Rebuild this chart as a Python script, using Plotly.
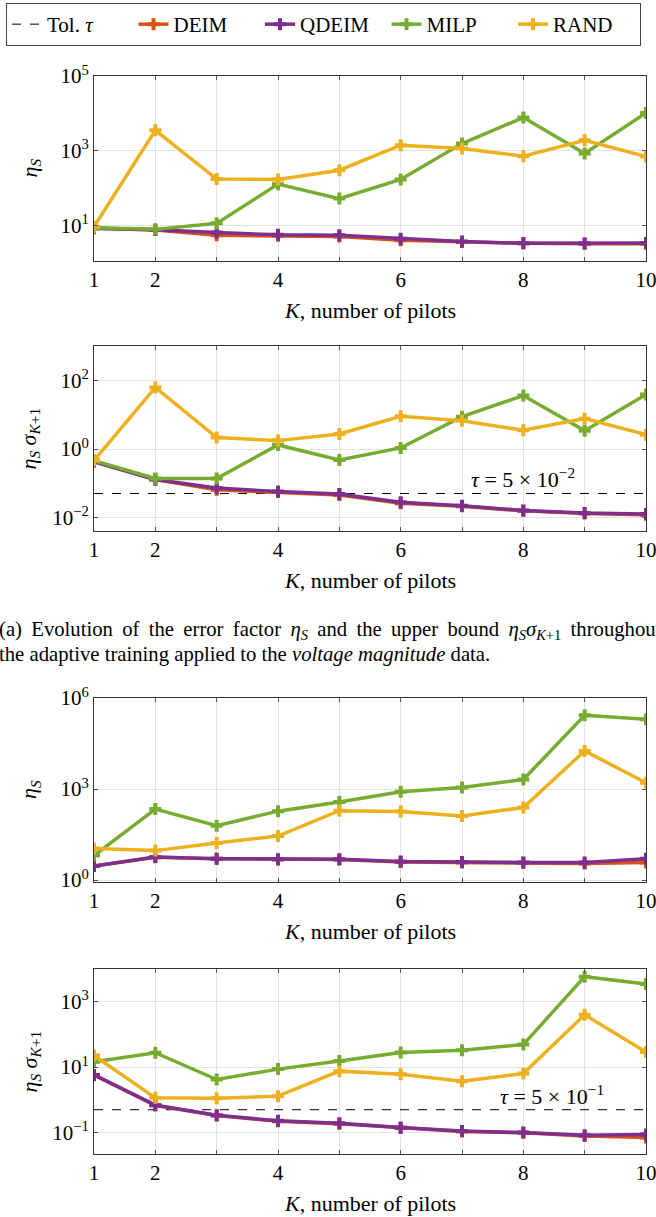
import plotly.graph_objects as go

# ---------------- data ----------------
K = [1, 2, 3, 4, 5, 6, 7, 8, 9, 10]
x_tick_vals = [1, 2, 3, 4, 5, 6, 7, 8, 9, 10]
x_tick_text = ["1", "2", "", "4", "", "6", "", "8", "", "10"]

# (a) voltage magnitude: error factor eta_S
vm_eta_deim = [8.3, 7.5, 5.4, 5.3, 5.0, 4.0, 3.6, 3.3, 3.2, 3.2]
vm_eta_qdeim = [8.3, 7.6, 6.4, 5.6, 5.4, 4.4, 3.7, 3.3, 3.25, 3.35]
vm_eta_milp = [8.6, 7.8, 11.3, 127, 52, 170, 1550, 7700, 840, 10250]
vm_eta_rand = [9.2, 3500, 174, 170, 300, 1400, 1140, 713, 1900, 700]

# (a) voltage magnitude: upper bound eta_S sigma_{K+1}
vm_bnd_deim = [0.43, 0.128, 0.064, 0.055, 0.045, 0.026, 0.021, 0.0155, 0.013, 0.012]
vm_bnd_qdeim = [0.43, 0.129, 0.072, 0.057, 0.048, 0.0275, 0.022, 0.0159, 0.0134, 0.0126]
vm_bnd_milp = [0.46, 0.138, 0.138, 1.32, 0.48, 1.08, 8.9, 37, 3.47, 40]
vm_bnd_rand = [0.46, 64, 2.17, 1.77, 2.77, 9.1, 6.8, 3.55, 7.8, 2.65]
vm_tau = 5e-2

# (b) second data set: error factor eta_S
va_eta_deim = [2.9, 5.6, 5.0, 4.7, 4.7, 3.9, 3.8, 3.7, 3.5, 3.8]
va_eta_qdeim = [2.9, 5.7, 5.06, 4.8, 4.8, 4.1, 3.9, 3.8, 3.8, 5.06]
va_eta_milp = [6.4, 218, 62, 186, 370, 809, 1123, 2060, 269000, 199000]
va_eta_rand = [11, 9.3, 16.6, 28, 192, 182, 128, 246, 18000, 1600]

# (b) second data set: upper bound
va_bnd_deim = [5.7, 0.68, 0.335, 0.22, 0.185, 0.138, 0.108, 0.098, 0.078, 0.071]
va_bnd_qdeim = [5.8, 0.687, 0.34, 0.228, 0.193, 0.142, 0.112, 0.1, 0.083, 0.087]
va_bnd_milp = [14.6, 27.5, 4.19, 8.7, 15.3, 28, 33, 49, 5820, 3470]
va_bnd_rand = [22.7, 1.15, 1.12, 1.3, 7.55, 6.1, 3.7, 6.4, 400, 28.8]
va_tau = 5e-1

# y ticks (log10 exponents) per panel
p1_ticks = [1, 3, 5]
p2_ticks = [-2, 0, 2]
p3_ticks = [0, 3, 6]
p4_ticks = [-1, 1, 3]

method_names = ["DEIM", "QDEIM", "MILP", "RAND"]
method_colors = ["#D95319", "#7E2F8E", "#77AC30", "#EDB120"]

caption_line1 = ("(a) Evolution of the error factor <i>η</i><sub><i>S</i></sub> and the upper bound "
                 "<i>η</i><sub><i>S</i></sub><i>σ</i><sub><i>K</i>+1</sub> throughout")
caption_line2 = "the adaptive training applied to the <i>voltage magnitude</i> data."

# ---------------- layout helpers ----------------
W, H = 656, 1217
FONT = "Liberation Serif"
X0, X1 = 94, 646


def ydom(top, bot):
    return [1 - bot / H, 1 - top / H]


panels = [
    ([vm_eta_deim, vm_eta_qdeim, vm_eta_milp, vm_eta_rand], None, 76, 261,
     [0.045, 5.0], p1_ticks, "<i>η</i><sub><i>S</i></sub>"),
    ([vm_bnd_deim, vm_bnd_qdeim, vm_bnd_milp, vm_bnd_rand], vm_tau, 346, 531,
     [-2.4, 3.02], p2_ticks, "<i>η</i><sub><i>S</i></sub> <i>σ</i><sub><i>K</i>+1</sub>"),
    ([va_eta_deim, va_eta_qdeim, va_eta_milp, va_eta_rand], None, 698, 882,
     [-0.066, 6.0], p3_ticks, "<i>η</i><sub><i>S</i></sub>"),
    ([va_bnd_deim, va_bnd_qdeim, va_bnd_milp, va_bnd_rand], va_tau, 969, 1154,
     [-1.655, 4.0], p4_ticks, "<i>η</i><sub><i>S</i></sub> <i>σ</i><sub><i>K</i>+1</sub>"),
]

fig = go.Figure()
annotations = []
tol_legend_shown = False

for i, (series, tau, top, bot, yr, ticks, ylab) in enumerate(panels):
    n = "" if i == 0 else str(i + 1)
    xa, ya = "x" + n, "y" + n
    if tau is not None:
        show_tol = not tol_legend_shown
        tol_legend_shown = True
        fig.add_trace(go.Scatter(
            x=[K[0], K[-1]], y=[tau, tau], mode="lines", name="Tol. <i>τ</i>",
            line=dict(color="black", width=1, dash="dash"),
            xaxis=xa, yaxis=ya, showlegend=show_tol, legendrank=1))
    for j, (vals, nm, col) in enumerate(zip(series, method_names, method_colors)):
        fig.add_trace(go.Scatter(
            x=K, y=vals, mode="lines+markers", name=nm,
            line=dict(color=col, width=3.5),
            marker=dict(symbol="cross", size=10, color=col, line=dict(width=0)),
            xaxis=xa, yaxis=ya, showlegend=(i == 0), legendrank=2 + j))
    axcommon = dict(showline=True, linecolor="#333", linewidth=1, mirror="allticks",
                    ticks="inside", ticklen=4, tickcolor="#555", tickwidth=1,
                    showgrid=True, gridcolor="#e3e3e3", gridwidth=1, zeroline=False,
                    ticklabeloverflow="allow",
                    tickfont=dict(family=FONT, size=21, color="black"))
    fig.update_layout(**{
        "xaxis" + n: dict(domain=[X0 / W, X1 / W], range=[1, 10], anchor=ya,
                          tickmode="array", tickvals=x_tick_vals, ticktext=x_tick_text,
                          automargin=False, **axcommon),
        "yaxis" + n: dict(domain=ydom(top, bot), type="log", range=yr, anchor=xa,
                          tickmode="array", tickvals=[10 ** t for t in ticks],
                          ticktext=["10<sup>%s</sup>" % (str(t).replace("-", "−")) for t in ticks],
                          automargin=False, **axcommon),
    })
    annotations.append(dict(text="<i>K</i>, number of pilots", xref="paper", yref="paper",
                            x=(X0 + X1) / 2 / W, y=1 - (bot + 49) / H, xanchor="center",
                            yanchor="middle", showarrow=False,
                            font=dict(family=FONT, size=22, color="black")))
    annotations.append(dict(text=ylab, xref="paper", yref="paper", textangle=-90,
                            x=30 / W, y=1 - (top + bot) / 2 / H, xanchor="center",
                            yanchor="middle", showarrow=False,
                            font=dict(family=FONT, size=22, color="black")))
    if tau is not None:
        exp = -2 if tau < 0.1 else -1
        tx = 8.0 if exp == -2 else 8.47
        ty = -0.84 if exp == -2 else 0.142
        annotations.append(dict(text="<i>τ</i> = 5 × 10<sup>−%d</sup>" % (-exp), xref=xa, yref=ya,
                                x=tx, y=ty, xanchor="center", yanchor="middle", showarrow=False,
                                font=dict(family=FONT, size=22, color="black")))

# caption (two lines; first line justified like the typeset original)
justified1 = caption_line1.replace(" ", "\u2009 ")
for txt, ypx in [(justified1, 630), (caption_line2, 654)]:
    annotations.append(dict(text=txt, xref="paper", yref="paper", x=-3 / W, y=1 - ypx / H,
                            xanchor="left", yanchor="middle", align="left", showarrow=False,
                            font=dict(family=FONT, size=20.7, color="black")))

fig.update_layout(
    width=W, height=H, margin=dict(l=0, r=0, t=0, b=0, autoexpand=False),
    paper_bgcolor="white", plot_bgcolor="white",
    font=dict(family=FONT, size=21, color="black"),
    annotations=annotations,
    legend=dict(orientation="h", x=6 / W, y=1 - 3 / H, xanchor="left", yanchor="top",
                bordercolor="#444", borderwidth=1, bgcolor="white",
                font=dict(family=FONT, size=21, color="black"), traceorder="normal",
                entrywidth=81.5, entrywidthmode="pixels"),
)

fig.write_html("out.html")
